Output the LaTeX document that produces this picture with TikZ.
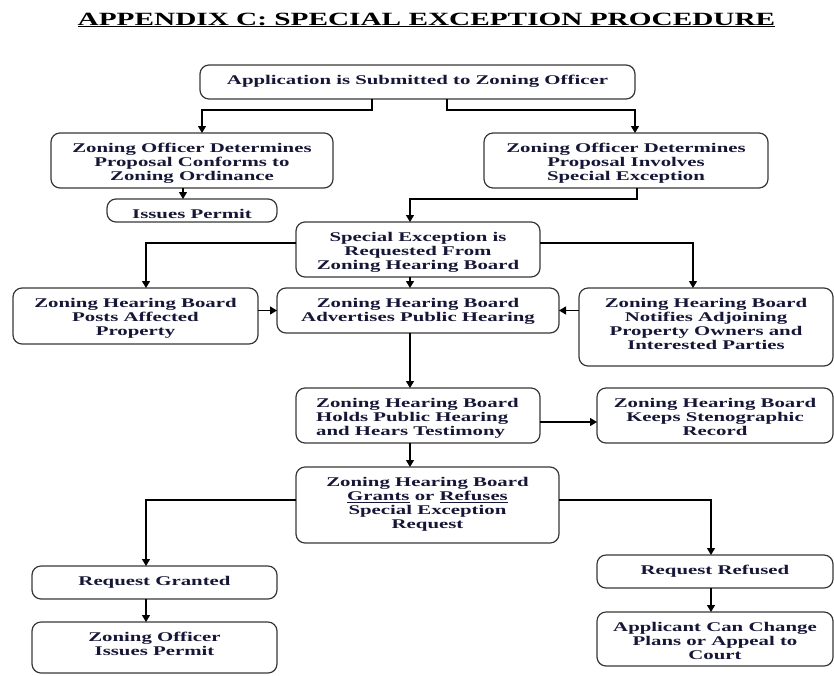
\documentclass[tikz,border=0pt]{standalone}
\usepackage{fontspec}
\setmainfont[FakeStretch=1.565]{Liberation Serif}
\usetikzlibrary{calc,fit,arrows.meta}
\definecolor{txtnavy}{RGB}{22,22,55}
\definecolor{boxgray}{RGB}{55,55,55}
\newcommand\mkbox[6]{%
  \node[bx, fit={(#2,#3)(#4,#5)}] (#1) {};
  \node[txt, anchor=north] (#1-t) at ($(#1.north)+(0,10)$) {#6};
}
\begin{document}
\begin{tikzpicture}[x=1pt,y=-1pt,
  bx/.style={draw=boxgray, line width=1.2pt, rounded corners=9pt, inner sep=0pt, outer sep=0pt},
  txt/.style={text=txtnavy, inner sep=0pt, align=center, font=\fontsize{13.3}{14}\selectfont\bfseries},
  arr/.style={draw=black, line width=1.3pt, -{Triangle[length=7pt,width=8pt]}}]
\useasboundingbox (0,0) rectangle (834,675);
\node[anchor=base, inner sep=0pt, font=\fontsize{18.7}{20}\selectfont\bfseries] (title) at (426.5,25) {\underline{APPENDIX C: SPECIAL EXCEPTION PROCEDURE}};

\mkbox{app}{200}{65}{635}{99}{Application is Submitted to Zoning Officer}
\mkbox{conf}{51}{133}{333}{188}{Zoning Officer Determines\\Proposal Conforms to\\Zoning Ordinance}
\mkbox{inv}{484}{133}{768}{188}{Zoning Officer Determines\\Proposal Involves\\Special Exception}
\mkbox{permit}{107}{199}{277}{222}{Issues Permit}
\mkbox{spec}{296}{222}{540}{277}{Special Exception is\\Requested From\\Zoning Hearing Board}
\mkbox{posts}{13}{288}{258}{344}{Zoning Hearing Board\\Posts Affected\\Property}
\mkbox{adv}{277}{288}{559}{333}{Zoning Hearing Board\\Advertises Public Hearing}
\mkbox{notif}{579}{288}{833}{366}{Zoning Hearing Board\\Notifies Adjoining\\Property Owners and\\Interested Parties}
\node[bx, fit={(296,388)(540,443)}] (holds) {};
\node[txt, anchor=north west, align=left] (holds-t) at (316,398) {Zoning Hearing Board\\Holds Public Hearing\\and Hears Testimony};
\mkbox{steno}{597}{388}{833}{443}{Zoning Hearing Board\\Keeps Stenographic\\Record}
\mkbox{grants}{296}{467}{559}{543}{Zoning Hearing Board\\\underline{Grants} or \underline{Refuses}\\Special Exception\\Request}
\mkbox{granted}{32}{566}{277}{599}{Request Granted}
\mkbox{zop}{32}{622}{277}{673}{Zoning Officer\\Issues Permit}
\mkbox{refused}{597}{555}{833}{588}{Request Refused}
\mkbox{applic}{597}{612}{833}{666}{Applicant Can Change\\Plans or Appeal to\\Court}

\draw[arr] ([xshift=-45.5pt]app.south) -- ++(0,11) -| ([xshift=10pt]conf.north);
\draw[arr] ([xshift=29.5pt]app.south) -- ++(0,11) -| ([xshift=9pt]inv.north);
\draw[arr] ([xshift=-9pt]conf.south) -- ([xshift=-9pt]permit.north);
\draw[arr] ([xshift=11pt]inv.south) -- ++(0,11) -| ([xshift=-8pt]spec.north);
\draw[arr] ([yshift=6.5pt]spec.west) -| ([xshift=10.5pt]posts.north);
\draw[arr] ([yshift=6.5pt]spec.east) -| ([xshift=-13pt]notif.north);
\draw[arr] ([xshift=-8pt]spec.south) -- ([xshift=-8pt]adv.north);
\draw[arr] (posts.east |- adv.west) -- (adv.west);
\draw[arr] (notif.west |- adv.east) -- (adv.east);
\draw[arr] ([xshift=-8pt]adv.south) -- ([xshift=-8pt]holds.north);
\draw[arr] ([yshift=-6.5pt]holds.east) -- ([yshift=-6.5pt]steno.west);
\draw[arr] ([xshift=-8pt]holds.south) -- ([xshift=-8pt]holds.south |- grants.north);
\draw[arr] ([yshift=5pt]grants.west) -| ([xshift=-8.5pt]granted.north);
\draw[arr] ([yshift=5pt]grants.east) -| ([xshift=-4pt]refused.north);
\draw[arr] ([xshift=-8.5pt]granted.south) -- ([xshift=-8.5pt]zop.north);
\draw[arr] ([xshift=-4pt]refused.south) -- ([xshift=-4pt]applic.north);
\end{tikzpicture}
\end{document}
